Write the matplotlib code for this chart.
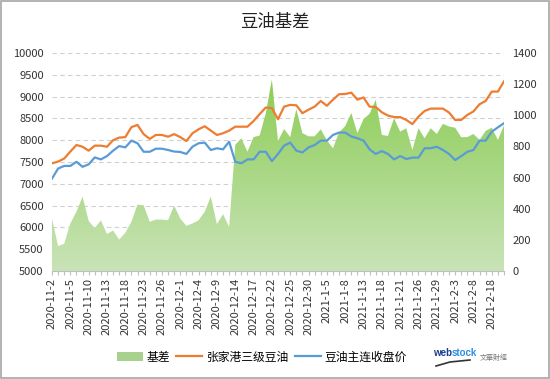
import numpy as np
import matplotlib
matplotlib.use('Agg')
import matplotlib.pyplot as plt
from matplotlib.colors import LinearSegmentedColormap
from matplotlib.patches import Rectangle, Patch
from matplotlib.lines import Line2D

plt.rcParams['font.family'] = ['Noto Sans CJK SC', 'DejaVu Sans']

# trading days (category axis)
dates = [
    '2020-11-2', '2020-11-3', '2020-11-4', '2020-11-5', '2020-11-6', '2020-11-9',
    '2020-11-10', '2020-11-11', '2020-11-12', '2020-11-13', '2020-11-16', '2020-11-17',
    '2020-11-18', '2020-11-19', '2020-11-20', '2020-11-23', '2020-11-24', '2020-11-25',
    '2020-11-26', '2020-11-27', '2020-11-30', '2020-12-1', '2020-12-2', '2020-12-3',
    '2020-12-4', '2020-12-7', '2020-12-8', '2020-12-9', '2020-12-10', '2020-12-11',
    '2020-12-14', '2020-12-15', '2020-12-16', '2020-12-17', '2020-12-18', '2020-12-21',
    '2020-12-22', '2020-12-23', '2020-12-24', '2020-12-25', '2020-12-28', '2020-12-29',
    '2020-12-30', '2020-12-31', '2021-1-4', '2021-1-5', '2021-1-6', '2021-1-7',
    '2021-1-8', '2021-1-11', '2021-1-12', '2021-1-13', '2021-1-14', '2021-1-15',
    '2021-1-18', '2021-1-19', '2021-1-20', '2021-1-21', '2021-1-22', '2021-1-25',
    '2021-1-26', '2021-1-27', '2021-1-28', '2021-1-29', '2021-2-1', '2021-2-2',
    '2021-2-3', '2021-2-4', '2021-2-5', '2021-2-8', '2021-2-9', '2021-2-10',
    '2021-2-18', '2021-2-19', '2021-2-22',
]

# 基差 (right axis)
basis = [335, 160, 175, 305, 380, 477, 322, 275, 325, 238, 260, 202, 245, 316, 426,
         422, 316, 330, 330, 326, 420, 337, 290, 305, 326, 380, 477, 301, 365, 283,
         810, 852, 766, 860, 870, 1013, 1230, 835, 912, 860, 1040, 885, 865, 865, 910,
         840, 788, 890, 930, 1015, 885, 975, 1010, 1099, 874, 867, 981, 895, 917, 777,
         917, 852, 917, 880, 945, 928, 920, 859, 860, 880, 842, 900, 920, 842, 935]

# 张家港三级豆油 (left axis)
spot = [7470, 7510, 7580, 7740, 7890, 7850, 7760, 7875, 7875, 7850, 8000, 8060, 8070,
        8300, 8350, 8140, 8030, 8120, 8120, 8080, 8140, 8070, 7980, 8160, 8250, 8320,
        8220, 8120, 8160, 8220, 8310, 8310, 8310, 8440, 8600, 8750, 8735, 8480, 8770,
        8810, 8800, 8620, 8700, 8770, 8900, 8790, 8930, 9055, 9060, 9090, 8930, 8980,
        8770, 8760, 8640, 8565, 8530, 8530, 8465, 8370, 8540, 8670, 8725, 8725, 8725,
        8635, 8465, 8465, 8580, 8660, 8825, 8900, 9115, 9115, 9350]

# 豆油主连收盘价 (left axis)
futures = [7120, 7350, 7410, 7410, 7505, 7390, 7445, 7605, 7560, 7635, 7760, 7865, 7835,
           7990, 7930, 7735, 7735, 7805, 7805, 7775, 7740, 7730, 7685, 7850, 7930, 7945,
           7775, 7815, 7790, 7965, 7505, 7470, 7560, 7560, 7735, 7735, 7520, 7685, 7875,
           7945, 7760, 7720, 7835, 7890, 7990, 7990, 8120, 8175, 8175, 8085, 8045, 7990,
           7790, 7685, 7750, 7685, 7560, 7635, 7570, 7600, 7600, 7815, 7815, 7850, 7775,
           7685, 7545, 7635, 7735, 7775, 7990, 7990, 8195, 8295, 8390]

x = np.arange(len(dates))
W, H = 550, 379

fig = plt.figure(figsize=(5.5, 3.79), dpi=100)
fig.patch.set_facecolor('white')

# base axes: left scale, grid and x axis
ax = fig.add_axes([52 / W, 1 - 271 / H, (504 - 52) / W, (271 - 53) / H])
ax_area = ax.twinx()
ax_line = ax.twinx()

ax.set_ylim(5000, 10000)
ax.set_yticks(range(5000, 10001, 500))
ax.yaxis.grid(True, linestyle=(0, (4, 3)), color='#d0d0d0', lw=0.8)
ax.set_axisbelow(True)
ax.tick_params(axis='y', length=0, labelsize=8, colors='#333333', pad=6)

ax.set_xlim(0, len(dates) - 1)
ax.set_xticks(x)
ax.set_xticklabels([d if i % 3 == 0 else '' for i, d in enumerate(dates)],
                   rotation=90, fontsize=8, color='#333333')
ax.tick_params(axis='x', length=3, color='#bfbfbf', pad=2)

for a in (ax, ax_area, ax_line):
    for s in a.spines.values():
        s.set_visible(False)
ax.spines['bottom'].set_visible(True)
ax.spines['bottom'].set_color('#bfbfbf')

# area with vertical gradient
cmap = LinearSegmentedColormap.from_list('g', ['#C9E3B8', '#8CCD55'])
poly = ax_area.fill_between(x, basis, 0, color='none', lw=0)
grad = np.linspace(0, 1, 256).reshape(-1, 1)
img = ax_area.imshow(grad, cmap=cmap, aspect='auto', origin='lower',
                     extent=[0, len(dates) - 1, 0, max(basis)], interpolation='bilinear')
img.set_clip_path(poly.get_paths()[0], transform=ax_area.transData)
ax_area.set_xlim(0, len(dates) - 1)
ax_area.set_ylim(0, 1400)
ax_area.set_yticks(range(0, 1401, 200))
ax_area.tick_params(axis='y', length=0, labelsize=8, colors='#333333', pad=6)

# lines
ax_line.plot(x, spot, color='#ED7D31', lw=1.6)
ax_line.plot(x, futures, color='#5B9BD5', lw=1.6)
ax_line.set_ylim(5000, 10000)
ax_line.set_xlim(0, len(dates) - 1)
ax_line.set_yticks([])

# title
fig.text(0.5, 1 - 22 / H, '豆油基差', ha='center', va='center', fontsize=12.5, color='#222222')

# legend
handles = [Patch(facecolor='#A9D18E', edgecolor='none'),
           Line2D([], [], color='#ED7D31', lw=1.6),
           Line2D([], [], color='#5B9BD5', lw=1.6)]
labels = ['基差', '张家港三级豆油', '豆油主连收盘价']
fig.legend(handles, labels, loc='center', bbox_to_anchor=(262 / W, 1 - 357 / H),
           ncol=3, frameon=False, fontsize=8.5, handlelength=2.2, handleheight=0.9,
           handletextpad=0.35, columnspacing=0.5)

# logo
t_web = fig.text(433 / W, 1 - 353 / H, 'web', fontsize=7, weight='bold', color='#1b3d8f',
                 family='Liberation Sans', va='center')
fig.canvas.draw()
bb = t_web.get_window_extent()
fig.text(bb.x1 / W - 0.001, 1 - 353 / H, 'stock', fontsize=7, weight='bold', color='#2f8ee0',
         family='Liberation Sans', va='center')
fig.text(480 / W, 1 - 358 / H, '文華財經', fontsize=5, color='#777777', va='center')
fig.add_artist(Line2D([436 / W, 450 / W, 470 / W], [1 - 366 / H, 1 - 362 / H, 1 - 360 / H],
                     color='#333333', lw=1.2, transform=fig.transFigure))

# outer border
fig.add_artist(Rectangle((0.001, 0.002), 0.997, 0.996, transform=fig.transFigure,
                         fill=False, ec='#a6a6a6', lw=1.2))

fig.savefig('out.png', dpi=100)
